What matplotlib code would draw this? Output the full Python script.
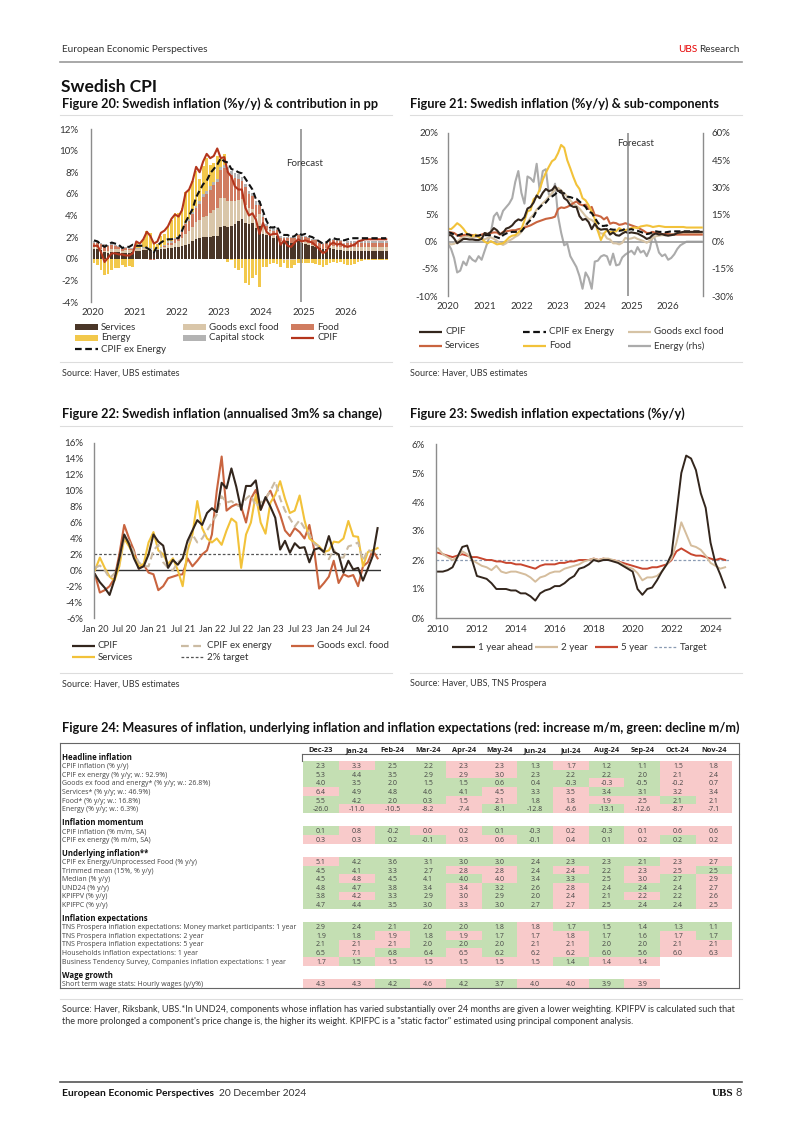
import numpy as np
import matplotlib.pyplot as plt
from matplotlib.lines import Line2D
from matplotlib.patches import Rectangle

plt.rcParams['font.family'] = ['Lato', 'DejaVu Sans']

W, H = 802, 1134
TXT = '#333333'
SPINE = '#8c8c8c'
DARK = '#33261d'

# ---------------- Figure 20: contributions (pp), monthly Jan-2020 .. Dec-2026
services_c = [0.9, 0.9, 0.8, 0.6, 0.5, 0.6, 0.6, 0.6, 0.5, 0.5, 0.5, 0.6,
              0.7, 0.7, 0.8, 0.8, 0.8, 0.6, 0.8, 0.9, 0.9, 1.0, 1.0, 1.1,
              1.1, 1.2, 1.3, 1.4, 1.6, 1.8, 1.9, 2.0, 2.0, 2.0, 2.1, 2.1,
              2.9, 3.0, 2.9, 3.0, 3.2, 3.5, 3.7, 3.3, 3.2, 3.3, 2.8, 3.0,
              2.3, 2.2, 2.2, 1.9, 2.1, 1.5, 1.6, 1.6, 1.5, 1.5, 1.6, 1.5,
              1.4, 1.3, 1.2, 1.1, 1.0, 0.9, 0.9, 1.0, 0.9, 0.8, 0.8, 0.7,
              0.7, 0.7, 0.7, 0.7, 0.7, 0.7, 0.7, 0.7, 0.7, 0.7, 0.7, 0.7]
goods_c = [0.2, 0.2, 0.1, 0.1, 0.2, 0.3, 0.3, 0.3, 0.2, 0.3, 0.3, 0.2,
           0.2, 0.2, 0.2, 0.1, 0.1, 0.0, 0.0, 0.1, 0.2, 0.3, 0.3, 0.4,
           0.5, 0.7, 1.0, 1.2, 1.3, 1.6, 1.7, 1.9, 2.0, 2.2, 2.4, 2.6,
           2.7, 2.6, 2.4, 2.3, 2.1, 1.9, 1.8, 1.7, 1.5, 1.3, 1.1, 1.1,
           0.9, 0.5, 0.4, 0.4, 0.2, 0.1, -0.1, -0.1, -0.1, -0.1, 0.2, 0.1,
           0.2, 0.2, 0.1, 0.1, 0.0, -0.1, 0.1, 0.2, 0.3, 0.3, 0.3, 0.3,
           0.4, 0.4, 0.4, 0.4, 0.4, 0.4, 0.4, 0.4, 0.4, 0.4, 0.4, 0.4]
food_c = [0.4, 0.4, 0.5, 0.6, 0.5, 0.4, 0.3, 0.2, 0.2, 0.2, 0.1, 0.1,
          0.0, 0.0, 0.0, 0.0, -0.1, -0.1, 0.0, 0.0, 0.1, 0.2, 0.2, 0.3,
          0.4, 0.6, 0.9, 0.9, 1.2, 1.3, 1.5, 1.8, 2.0, 2.2, 2.3, 2.4,
          2.6, 2.8, 2.8, 2.4, 2.2, 2.0, 1.7, 1.6, 1.3, 1.2, 1.1, 0.9,
          0.7, 0.3, 0.1, 0.3, 0.4, 0.3, 0.3, 0.3, 0.4, 0.4, 0.4, 0.4,
          0.4, 0.4, 0.4, 0.5, 0.5, 0.5, 0.5, 0.4, 0.5, 0.5, 0.5, 0.4,
          0.4, 0.4, 0.4, 0.4, 0.4, 0.4, 0.4, 0.4, 0.4, 0.4, 0.4, 0.4]
energy_c = [-0.4, -0.6, -1.0, -1.5, -1.4, -1.0, -0.9, -0.9, -0.6, -0.8, -0.7, -0.8,
            0.5, 0.3, 0.7, 1.6, 1.4, 0.8, 0.5, 1.0, 1.0, 1.3, 2.0, 2.3,
            2.1, 2.1, 2.9, 2.7, 2.9, 3.2, 2.1, 2.6, 3.0, 2.0, 1.8, 2.1,
            0.7, 1.0, -0.3, -0.1, -0.9, -1.0, -0.9, -2.2, -2.4, -1.8, -1.5, -2.6,
            -0.8, -0.8, -0.5, -0.4, -0.5, -0.8, -0.3, -0.8, -0.8, -0.5, -0.4, -0.4,
            -0.4, -0.4, -0.4, -0.5, -0.6, -0.7, -0.6, -0.4, -0.3, -0.4, -0.3, -0.5,
            -0.6, -0.6, -0.5, -0.3, -0.2, -0.1, -0.1, -0.1, -0.1, -0.1, -0.1, -0.1]
capital_c = [0.1, 0.1, 0.1, 0.1, 0.1, 0.1, 0.1, 0.1, 0.1, 0.1, 0.1, 0.1,
             0.1, 0.1, 0.1, 0.1, 0.1, 0.1, 0.1, 0.1, 0.1, 0.1, 0.1, 0.1,
             0.1, 0.1, 0.1, 0.2, 0.2, 0.2, 0.2, 0.3, 0.3, 0.3, 0.3, 0.3,
             0.3, 0.3, 0.4, 0.4, 0.4, 0.4, 0.4, 0.3, 0.3, 0.3, 0.3, 0.3,
             0.2, 0.2, 0.2, 0.2, 0.2, 0.2, 0.1, 0.1, 0.1, 0.1, 0.1, 0.1,
             0.1, 0.1, 0.1, 0.1, 0.1, 0.1, 0.1, 0.1, 0.1, 0.1, 0.1, 0.1,
             0.1, 0.1, 0.1, 0.1, 0.1, 0.1, 0.1, 0.1, 0.1, 0.1, 0.1, 0.1]
cpif = [1.2, 1.2, 0.6, -0.3, 0.1, 0.5, 0.5, 0.4, 0.4, 0.3, 0.3, 0.5,
        1.6, 1.4, 1.8, 2.5, 2.1, 1.4, 1.6, 2.4, 2.6, 3.0, 3.7, 4.1,
        3.9, 4.5, 6.1, 6.4, 7.2, 8.5, 8.0, 9.0, 9.7, 9.3, 9.5, 10.2,
        9.3, 9.4, 8.0, 7.6, 6.7, 6.4, 6.4, 4.7, 4.0, 4.2, 3.6, 2.3,
        3.3, 2.5, 2.2, 2.3, 2.3, 1.3, 1.7, 1.2, 1.1, 1.5, 1.8, 1.6,
        1.7, 1.6, 1.5, 1.2, 0.9, 0.5, 0.7, 1.3, 1.5, 1.3, 1.4, 1.2,
        1.1, 1.2, 1.3, 1.6, 1.7, 1.8, 1.8, 1.8, 1.8, 1.8, 1.8, 1.8]
cpif_xe = [1.7, 1.6, 1.3, 1.1, 1.3, 1.5, 1.4, 1.3, 1.0, 1.1, 1.1, 1.3,
           1.2, 1.2, 1.2, 1.0, 0.8, 0.6, 1.2, 1.5, 1.7, 1.8, 1.8, 1.9,
           1.9, 2.6, 3.4, 4.0, 4.6, 5.7, 6.3, 6.9, 7.2, 7.9, 8.3, 8.7,
           9.3, 9.0, 8.9, 8.3, 8.2, 8.0, 7.9, 7.4, 6.9, 6.4, 5.5, 5.3,
           4.4, 3.5, 2.9, 2.9, 3.0, 2.3, 2.2, 2.2, 2.0, 2.1, 2.4, 2.2,
           2.3, 2.1, 2.0, 1.8, 1.6, 1.4, 1.5, 1.8, 1.9, 1.8, 1.8, 1.7,
           1.8, 1.9, 1.9, 1.9, 1.9, 1.9, 1.9, 1.9, 1.9, 1.9, 1.9, 1.9]

# ---------------- Figure 21: sub-components (% y/y), monthly Jan-2020 .. Dec-2026
goods_yy = [-0.3, -0.5, -0.4, 0.0, 0.5, 0.8, 1.0, 0.9, 0.7, 0.8, 0.9, 0.6,
            0.4, 0.7, 0.8, 0.5, 0.2, -0.3, -0.6, -0.3, 0.2, 0.5, 0.9, 1.2,
            1.8, 2.6, 3.6, 4.4, 5.0, 5.9, 6.5, 7.1, 7.6, 8.3, 8.9, 9.6,
            9.9, 9.4, 8.9, 8.3, 7.6, 7.0, 6.6, 6.1, 5.4, 4.7, 4.2, 4.0,
            3.5, 2.0, 1.5, 1.5, 0.6, 0.4, -0.3, -0.3, -0.5, -0.2, 0.7, 0.5,
            0.6, 0.8, 0.5, 0.3, 0.1, -0.2, 0.2, 0.7, 1.0, 1.1, 1.2, 1.2,
            1.3, 1.4, 1.4, 1.5, 1.5, 1.5, 1.5, 1.5, 1.5, 1.5, 1.5, 1.5]
services_yy = [1.8, 1.7, 1.6, 1.2, 1.0, 1.2, 1.3, 1.3, 1.2, 1.1, 1.1, 1.3,
               1.5, 1.4, 1.6, 1.7, 1.7, 1.3, 1.8, 1.9, 2.0, 2.1, 2.1, 2.3,
               2.4, 2.6, 2.8, 3.0, 3.3, 3.6, 3.8, 4.0, 4.2, 4.3, 4.4, 4.6,
               6.0, 6.3, 6.2, 6.4, 6.7, 7.1, 7.4, 6.9, 6.7, 6.8, 6.0, 6.4,
               4.9, 4.8, 4.6, 4.1, 4.5, 3.3, 3.5, 3.4, 3.1, 3.2, 3.4, 3.2,
               3.0, 2.8, 2.6, 2.3, 2.0, 1.6, 1.6, 1.8, 1.6, 1.5, 1.4, 1.4,
               1.4, 1.3, 1.3, 1.3, 1.3, 1.3, 1.3, 1.3, 1.3, 1.3, 1.3, 1.3]
food_yy = [2.4, 2.3, 2.8, 3.4, 3.0, 2.4, 1.6, 1.2, 1.0, 1.3, 0.8, 0.5,
           0.0, -0.3, 0.1, -0.2, -0.5, -0.4, -0.3, 0.2, 0.8, 1.1, 1.2, 1.7,
           2.3, 3.9, 5.6, 5.8, 7.8, 8.3, 9.6, 11.4, 12.7, 13.8, 14.8, 15.2,
           16.3, 17.8, 17.3, 15.0, 13.5, 11.9, 10.5, 9.7, 8.0, 7.6, 6.7, 5.5,
           4.2, 2.0, 0.3, 1.5, 2.1, 1.8, 1.8, 1.9, 2.5, 2.1, 2.1, 2.3,
           2.5, 2.6, 2.5, 2.8, 2.9, 3.0, 2.9, 2.7, 2.8, 2.9, 2.8, 2.7,
           2.7, 2.7, 2.7, 2.7, 2.7, 2.7, 2.6, 2.6, 2.6, 2.6, 2.6, 2.6]
energy_yy = [-1.0, -4.0, -9.0, -17.0, -16.0, -11.0, -13.0, -8.0, -10.0, -11.0, -8.0, -10.0,
             -5.0, 0.0, 5.0, 14.0, 16.0, 12.0, 17.0, 19.0, 21.0, 24.0, 33.0, 39.0,
             27.0, 21.0, 36.0, 35.0, 33.0, 43.0, 28.0, 39.0, 40.0, 26.0, 25.0, 32.0,
             14.0, 5.0, -2.0, -1.0, -8.0, -11.0, -14.0, -19.0, -26.0, -17.0, -20.0, -26.0,
             -11.0, -10.5, -8.2, -7.4, -8.1, -12.8, -6.6, -13.1, -12.6, -8.7, -7.1, -6.0,
             -5.0, -7.0, -3.0, -6.0, -5.0, -8.0, -4.0, 4.0, 0.0, -6.0, -8.0, -7.0,
             -10.0, -9.0, -7.0, -4.0, -2.0, -1.0, 0.0, 0.0, 0.0, 0.0, 0.0, 0.0]

# ---------------- Figure 22: annualised 3m% sa change, monthly Jan-2020 .. Nov-2024
m22_labels = ['Jan 20', 'Jul 20', 'Jan 21', 'Jul 21', 'Jan 22', 'Jul 22',
              'Jan 23', 'Jul 23', 'Jan 24', 'Jul 24']
cpif_3m = [-0.5, -1.5, -2.2, -3.1, -1.2, 1.5, 4.5, 3.3, 1.5, 0.2, 0.5, 2.0,
           4.5, 3.6, 3.1, 0.3, 1.3, 0.7, 1.5, 3.7, 5.0, 6.3, 5.7, 7.2,
           7.8, 7.3, 11.0, 10.3, 12.8, 10.5, 7.6, 10.6, 10.6, 11.3, 7.6, 9.2,
           8.0, 6.6, 2.6, 3.7, 2.2, 3.4, 2.8, 2.9, 1.0, 2.6, 2.8, 2.3,
           4.3, 2.3, 2.0, -0.3, 1.2, 0.1, 0.3, -1.3, 0.2, 1.8, 5.3]
cpif_xe_3m = [0.3, 0.6, 0.0, -1.0, -0.4, 1.0, 4.2, 3.6, 2.2, 1.0, 0.5, 0.5,
              2.5, 3.2, 1.0, 0.3, 0.0, 1.0, 1.5, 3.0, 4.5, 3.5, 4.0, 5.0,
              6.0, 7.0, 9.3, 8.5, 8.7, 8.2, 8.0, 9.0, 9.5, 8.0, 8.5, 9.0,
              10.0, 11.2, 9.0, 7.5, 6.5, 5.5, 6.3, 5.3, 4.5, 3.3, 3.0, 2.2,
              1.4, 2.6, 1.6, 1.6, 3.0, 3.2, 3.5, 1.2, 2.6, 2.2, 2.6]
goods_3m = [-0.5, -2.8, -2.5, -2.0, -1.0, 2.0, 5.7, 4.0, 2.5, 0.2, 0.7, -0.3,
            -0.5, -2.5, -2.0, -1.0, -0.8, -0.6, -0.5, 1.5, 0.5, 1.2, 2.0, 2.5,
            4.5, 10.0, 14.3, 7.5, 8.0, 8.3, 8.0, 6.0, 9.0, 10.1, 7.6, 9.0,
            10.0, 8.5, 7.0, 5.0, 4.3, 5.3, 4.8, 4.0, 5.7, 2.5, -2.3, -1.6,
            -0.8, 1.2, -1.6, -0.5, -0.8, -0.6, -2.0, 0.5, 1.0, 2.5, 1.5]
services_3m = [0.0, 1.6, 0.3, -0.8, -1.3, 0.5, 4.0, 3.0, 1.8, 0.5, 0.8, 3.5,
               4.8, 2.5, 2.0, 0.8, 1.5, 0.0, -2.0, 2.5, 4.5, 8.7, 5.3, 4.0,
               3.5, 4.0, 3.2, 5.0, 6.5, 6.0, 0.3, 4.5, 6.0, 9.5, 6.0, 4.6,
               8.5, 9.5, 11.2, 9.0, 7.2, 7.5, 9.4, 6.3, 4.0, 3.5, 3.0, 2.3,
               2.5, 3.6, 3.5, 4.0, 6.2, 4.3, 4.2, 0.5, 2.3, 2.5, 2.8]
target_22 = 2.0

# ---------------- Figure 23: inflation expectations, quarterly 2010Q1 .. 2024Q4
exp_1y = [1.6, 1.6, 1.65, 1.75, 2.1, 2.45, 2.5, 2.0, 1.45, 1.4, 1.35, 1.2,
          1.0, 1.0, 1.0, 0.95, 0.95, 0.85, 0.85, 0.75, 0.6, 0.85, 0.95, 1.0,
          1.1, 1.1, 1.2, 1.35, 1.45, 1.7, 1.75, 1.85, 2.0, 1.95, 2.0, 2.0,
          1.95, 1.9, 1.8, 1.7, 1.6, 1.0, 0.8, 1.0, 1.05, 1.3, 1.6, 1.85,
          2.2, 3.6, 5.0, 5.6, 5.5, 5.1, 4.3, 3.8, 2.6, 1.9, 1.5, 1.05]
exp_2y = [2.4, 2.2, 2.1, 2.0, 2.1, 2.3, 2.2, 2.0, 1.9, 1.8, 1.75, 1.65,
          1.8, 1.6, 1.55, 1.6, 1.6, 1.55, 1.5, 1.4, 1.25, 1.4, 1.45, 1.55,
          1.6, 1.6, 1.7, 1.75, 1.8, 1.85, 1.95, 2.0, 2.05, 2.0, 2.05, 2.05,
          2.0, 1.95, 1.85, 1.75, 1.7, 1.55, 1.3, 1.4, 1.4, 1.45, 1.6, 1.85,
          2.05, 2.6, 3.3, 2.9, 2.5, 2.45, 2.35, 2.15, 1.9, 1.8, 1.7, 1.75]
exp_5y = [2.25, 2.2, 2.15, 2.1, 2.15, 2.2, 2.15, 2.1, 2.1, 2.05, 2.0, 2.0,
          1.95, 1.95, 1.9, 1.9, 1.85, 1.85, 1.8, 1.75, 1.7, 1.8, 1.85, 1.85,
          1.85, 1.9, 1.9, 1.95, 1.95, 2.0, 2.0, 2.0, 2.05, 2.0, 2.05, 2.0,
          2.0, 1.95, 1.9, 1.85, 1.8, 1.75, 1.7, 1.7, 1.75, 1.75, 1.8, 1.85,
          2.0, 2.3, 2.4, 2.3, 2.2, 2.15, 2.15, 2.1, 2.05, 2.0, 2.05, 2.0]
target_23 = 2.0

# ---------------- Figure 24: table
tab_cols = ['Dec-23', 'Jan-24', 'Feb-24', 'Mar-24', 'Apr-24', 'May-24',
            'Jun-24', 'Jul-24', 'Aug-24', 'Sep-24', 'Oct-24', 'Nov-24']
headline_rows = [
    ('CPIF inflation (% y/y)', [2.3, 3.3, 2.5, 2.2, 2.3, 2.3, 1.3, 1.7, 1.2, 1.1, 1.5, 1.8], 'grggrrgrggrr'),
    ('CPIF ex energy (% y/y; w.: 92.9%)', [5.3, 4.4, 3.5, 2.9, 2.9, 3.0, 2.3, 2.2, 2.2, 2.0, 2.1, 2.4], 'ggggrrggggrr'),
    ('Goods ex food and energy* (% y/y; w.: 26.8%)', [4.0, 3.5, 2.0, 1.5, 1.5, 0.6, 0.4, -0.3, -0.3, -0.5, -0.2, 0.7], 'ggggggggrgrr'),
    ('Services* (% y/y; w.: 46.9%)', [6.4, 4.9, 4.8, 4.6, 4.1, 4.5, 3.3, 3.5, 3.4, 3.1, 3.2, 3.4], 'rggggrgrggrr'),
    ('Food* (% y/y; w.: 16.8%)', [5.5, 4.2, 2.0, 0.3, 1.5, 2.1, 1.8, 1.8, 1.9, 2.5, 2.1, 2.1], 'ggggrrgrrrgr'),
    ('Energy (% y/y; w.: 6.3%)', [-26.0, -11.0, -10.5, -8.2, -7.4, -8.1, -12.8, -6.6, -13.1, -12.6, -8.7, -7.1], 'grrrrggrgrrr'),
]
momentum_rows = [
    ('CPIF inflation (% m/m, SA)', [0.1, 0.8, -0.2, 0.0, 0.2, 0.1, -0.3, 0.2, -0.3, 0.1, 0.6, 0.6], 'grgrrggrgrrr'),
    ('CPIF ex energy (% m/m, SA)', [0.3, 0.3, 0.2, -0.1, 0.3, 0.6, -0.1, 0.4, 0.1, 0.2, 0.2, 0.2], 'rrggrrgrgrgr'),
]
underlying_rows = [
    ('CPIF ex Energy/Unprocessed Food (% y/y)', [5.1, 4.2, 3.6, 3.1, 3.0, 3.0, 2.4, 2.3, 2.3, 2.1, 2.3, 2.7], 'rgggggggggrr'),
    ('Trimmed mean (15%, % y/y)', [4.5, 4.1, 3.3, 2.7, 2.8, 2.8, 2.4, 2.4, 2.2, 2.3, 2.5, 2.5], 'ggggrrgrgrrg'),
    ('Median (% y/y)', [4.5, 4.8, 4.5, 4.1, 4.0, 4.0, 3.4, 3.3, 2.5, 3.0, 2.7, 2.9], 'grgggrgggrgr'),
    ('UND24 (% y/y)', [4.8, 4.7, 3.8, 3.4, 3.4, 3.2, 2.6, 2.8, 2.4, 2.4, 2.4, 2.7], 'ggggrggrgggr'),
    ('KPIFPV (% y/y)', [3.8, 4.2, 3.3, 2.9, 3.0, 2.9, 2.0, 2.4, 2.1, 2.2, 2.2, 2.6], 'grggrggrgrgr'),
    ('KPIFPC (% y/y)', [4.7, 4.4, 3.5, 3.0, 3.3, 3.0, 2.7, 2.7, 2.5, 2.4, 2.4, 2.5], 'ggggrggrgggr'),
]
expectation_rows = [
    ('TNS Prospera inflation expectations: Money market participants: 1 year', [2.9, 2.4, 2.1, 2.0, 2.0, 1.8, 1.8, 1.7, 1.5, 1.4, 1.3, 1.1], 'ggggggrggggg'),
    ('TNS Prospera inflation expectations: 2 year', [1.9, 1.8, 1.9, 1.8, 1.9, 1.7, 1.7, 1.8, 1.7, 1.6, 1.7, 1.7], 'ggrgrgrrggrg'),
    ('TNS Prospera inflation expectations: 5 year', [2.1, 2.1, 2.1, 2.0, 2.0, 2.0, 2.1, 2.1, 2.0, 2.0, 2.1, 2.1], 'grrgggrrggrr'),
    ('Households inflation expectations: 1 year', [6.5, 7.1, 6.8, 6.4, 6.5, 6.2, 6.2, 6.2, 6.0, 5.6, 6.0, 6.3], 'grggrgrrggrr'),
    ('Business Tendency Survey, Companies inflation expectations: 1 year', [1.7, 1.5, 1.5, 1.5, 1.5, 1.5, 1.5, 1.4, 1.4, 1.4], 'rgrrrrrgrr'),
]
wage_rows = [
    ('Short term wage stats: Hourly wages (y/y%)', [4.3, 4.3, 4.2, 4.6, 4.2, 3.7, 4.0, 4.0, 3.9, 3.9], 'rrgrggrrgr'),
]
sections = [('Headline inflation', headline_rows),
            ('Inflation momentum', momentum_rows),
            ('Underlying inflation**', underlying_rows),
            ('Inflation expectations', expectation_rows),
            ('Wage growth', wage_rows)]

# ---------------- helpers (pixel coordinates, origin top-left)
fig = plt.figure(figsize=(W / 100, H / 100), dpi=100)
renderer = fig.canvas.get_renderer()


def fx(x):
    return x / W


def fy(y):
    return 1 - y / H


def axes_px(left, top, right, bottom):
    return fig.add_axes([fx(left), fy(bottom), (right - left) / W, (bottom - top) / H])


def text_px(x, y, s, **kw):
    kw.setdefault('va', 'center')
    kw.setdefault('color', TXT)
    return fig.text(fx(x), fy(y), s, **kw)


def text_width(t):
    return t.get_window_extent(renderer).width


def line_px(x0, x1, y0, y1, **kw):
    fig.add_artist(Line2D([fx(x0), fx(x1)], [fy(y0), fy(y1)], transform=fig.transFigure, **kw))


def rect_px(x0, y0, x1, y1, color):
    fig.add_artist(Rectangle((fx(x0), fy(y1)), (x1 - x0) / W, (y1 - y0) / H,
                             transform=fig.transFigure, facecolor=color, edgecolor='none', lw=0))


def leg_patch(x, y, color, label):
    rect_px(x, y - 2.6, x + 23, y + 2.6, color)
    text_px(x + 26, y, label, fontsize=7)


def leg_line(x, y, color, label, dashes=None, lw=1.6):
    kw = dict(color=color, lw=lw, solid_capstyle='butt')
    if dashes:
        kw.update(ls=(0, dashes), dash_capstyle='butt')
    line_px(x, x + 23, y, y, **kw)
    text_px(x + 26, y, label, fontsize=7)


def style(ax, left=True, right=False, bottom=False):
    for side in ['top', 'right', 'bottom', 'left']:
        ax.spines[side].set_visible(False)
    for side, on in [('left', left), ('right', right), ('bottom', bottom)]:
        if on:
            ax.spines[side].set_visible(True)
            ax.spines[side].set_color(SPINE)
            ax.spines[side].set_linewidth(1.0)
    ax.tick_params(length=0, labelsize=7, labelcolor=TXT, pad=6)
    ax.patch.set_alpha(0)


def pct(v):
    return f'{v:g}%'


# ---------------- page header
text_px(62, 50, 'European Economic Perspectives', fontsize=7.2)
t = text_px(740, 50, 'Research', fontsize=7.2, ha='right')
text_px(740 - text_width(t) - 2.5, 50, 'UBS', fontsize=7.2, ha='right', color='#e60000')
line_px(60, 742, 62, 62, color='#9a9a9a', lw=1.2)
text_px(61, 87, 'Swedish CPI', fontsize=12.5, fontweight='bold', color='#111111')

# ---------------- Figure 20
text_px(62, 104, 'Figure 20: Swedish inflation (%y/y) & contribution in pp', fontsize=9.2, fontweight='bold', color='#111111')
line_px(60, 392, 115, 115, color='#dddddd', lw=0.8)
ax = axes_px(91, 129, 388, 302)
xm = 2020 + (np.arange(84) + 0.5) / 12
pos = np.zeros(84)
neg = np.zeros(84)
for vals, col in [(services_c, '#4a3628'), (goods_c, '#d9c6a9'), (food_c, '#d07c60'),
                  (capital_c, '#b3b3b3'), (energy_c, '#f2c84b')]:
    v = np.array(vals)
    p = np.where(v > 0, v, 0)
    n = np.where(v < 0, v, 0)
    ax.bar(xm, p, bottom=pos, width=0.064, color=col, lw=0)
    ax.bar(xm, n, bottom=neg, width=0.064, color=col, lw=0)
    pos += p
    neg += n
ax.plot(xm, cpif, color='#b4351c', lw=1.5, zorder=4)
ax.plot(xm, cpif_xe, color='#111111', lw=1.5, ls=(0, (3, 1.6)), zorder=5)
ax.axvline(2024.93, color='#8f8f8f', lw=1.2, zorder=3)
ax.text(2025.03, 8.85, 'Forecast', fontsize=7, color=TXT, ha='center', va='center')
ax.set_xlim(2019.97, 2027.0)
ax.set_ylim(-4, 12)
ax.set_yticks(np.arange(-4, 13, 2))
ax.set_yticklabels([pct(v) for v in np.arange(-4, 13, 2)])
ax.set_xticks(np.arange(2020, 2027))
ax.set_xticklabels([str(y) for y in range(2020, 2027)])
style(ax)
ax.tick_params(axis='x', pad=4)
ax.tick_params(axis='y', pad=9)

leg_patch(75, 327, '#4a3628', 'Services')
leg_patch(183, 327, '#d9c6a9', 'Goods excl food')
leg_patch(291, 327, '#d07c60', 'Food')
leg_patch(75, 338, '#f2c84b', 'Energy')
leg_patch(183, 338, '#b3b3b3', 'Capital stock')
leg_line(291, 338, '#b4351c', 'CPIF')
leg_line(75, 349, '#111111', 'CPIF ex Energy', dashes=(3, 1.6))
line_px(60, 392, 362, 362, color='#dddddd', lw=0.8)
text_px(62, 373, 'Source: Haver, UBS estimates', fontsize=6.5)

# ---------------- Figure 21
text_px(410, 104, 'Figure 21: Swedish inflation (%y/y) & sub-components', fontsize=9.2, fontweight='bold', color='#111111')
line_px(410, 742, 115, 115, color='#dddddd', lw=0.8)
ax = axes_px(448, 133, 703, 296)
axr = ax.twinx()
xl = 2020 + np.arange(84) / 12
axr.plot(xl, energy_yy, color='#ababab', lw=1.5)
ax.set_zorder(axr.get_zorder() + 1)
ax.axhline(0, color='#9a9a9a', lw=1.2)
ax.plot(xl, goods_yy, color='#d6c3a5', lw=1.5)
ax.plot(xl, services_yy, color='#c9643f', lw=1.5)
ax.plot(xl, food_yy, color='#f2c23a', lw=1.5)
ax.plot(xl, cpif_xe, color='#111111', lw=1.5, ls=(0, (3, 1.6)))
ax.plot(xl, cpif, color=DARK, lw=1.5)
ax.axvline(2024.9, color='#8f8f8f', lw=1.2)
ax.text(2025.12, 18.0, 'Forecast', fontsize=7, color=TXT, ha='center', va='center')
ax.set_xlim(2020, 2026.95)
ax.set_ylim(-10, 20)
axr.set_ylim(-30, 60)
ax.set_yticks(np.arange(-10, 21, 5))
ax.set_yticklabels([pct(v) for v in np.arange(-10, 21, 5)])
axr.set_yticks(np.arange(-30, 61, 15))
axr.set_yticklabels([pct(v) for v in np.arange(-30, 61, 15)])
ax.set_xticks(np.arange(2020, 2027))
ax.set_xticklabels([str(y) for y in range(2020, 2027)])
style(ax)
style(axr, left=False, right=True)
ax.tick_params(axis='x', pad=4)
ax.tick_params(axis='y', pad=7)

leg_line(419, 332, DARK, 'CPIF')
leg_line(523, 332, '#111111', 'CPIF ex Energy', dashes=(3, 1.6))
leg_line(628, 332, '#d6c3a5', 'Goods excl food')
leg_line(419, 346, '#c9643f', 'Services')
leg_line(523, 346, '#f2c23a', 'Food')
leg_line(628, 346, '#ababab', 'Energy (rhs)')
line_px(410, 742, 362, 362, color='#dddddd', lw=0.8)
text_px(410, 373, 'Source: Haver, UBS estimates', fontsize=6.5)

# ---------------- Figure 22
text_px(62, 414, 'Figure 22: Swedish inflation (annualised 3m% sa change)', fontsize=9.2, fontweight='bold', color='#111111')
line_px(60, 392, 426, 426, color='#dddddd', lw=0.8)
ax = axes_px(94, 443, 381, 618)
xi = np.arange(len(cpif_3m))
ax.axhline(0, color='#333333', lw=1.0)
ax.axhline(target_22, color='#555555', lw=0.9, ls=(0, (2.2, 1.6)))
ax.plot(xi, goods_3m, color='#c9643f', lw=1.5)
ax.plot(xi, services_3m, color='#f2c23a', lw=1.5)
ax.plot(xi, cpif_xe_3m, color='#cbbba3', lw=1.5, ls=(0, (3.5, 2)))
ax.plot(xi, cpif_3m, color=DARK, lw=1.5)
ax.set_xlim(-0.2, 58.7)
ax.set_ylim(-6, 16)
ax.set_yticks(np.arange(-6, 17, 2))
ax.set_yticklabels([pct(v) for v in np.arange(-6, 17, 2)])
ax.set_xticks(np.arange(0, 55, 6))
ax.set_xticklabels(m22_labels)
style(ax)
ax.tick_params(axis='x', pad=5, labelsize=6.6)
ax.tick_params(axis='y', pad=8)

leg_line(72, 646, DARK, 'CPIF')
leg_line(181, 646, '#cbbba3', 'CPIF ex energy', dashes=(3.5, 2))
leg_line(291, 646, '#c9643f', 'Goods excl. food')
leg_line(72, 657, '#f2c23a', 'Services')
leg_line(181, 657, '#555555', '2% target', dashes=(2.2, 1.6), lw=0.9)
line_px(60, 392, 673, 673, color='#dddddd', lw=0.8)
text_px(62, 684, 'Source: Haver, UBS estimates', fontsize=6.5)

# ---------------- Figure 23
text_px(410, 414, 'Figure 23: Swedish inflation expectations (%y/y)', fontsize=9.2, fontweight='bold', color='#111111')
line_px(410, 742, 426, 426, color='#dddddd', lw=0.8)
ax = axes_px(436, 444, 730, 618)
xq = 2010 + np.arange(len(exp_1y)) * 0.25
ax.axhline(target_23, color='#8a9bb3', lw=0.9, ls=(0, (2.2, 1.6)))
ax.plot(xq, exp_5y, color='#c8472f', lw=1.4)
ax.plot(xq, exp_2y, color='#d5bd9d', lw=1.4)
ax.plot(xq, exp_1y, color=DARK, lw=1.4)
ax.set_xlim(2009.9, 2025.0)
ax.set_ylim(0, 6)
ax.set_yticks(np.arange(0, 7, 1))
ax.set_yticklabels([pct(v) for v in np.arange(0, 7, 1)])
ax.set_xticks(np.arange(2010, 2025, 2))
ax.set_xticklabels([str(y) for y in range(2010, 2025, 2)])
style(ax, bottom=True)
ax.tick_params(axis='x', pad=5)
ax.tick_params(axis='y', pad=8)

leg_line(452, 647, DARK, '1 year ahead')
leg_line(535, 647, '#d5bd9d', '2 year')
leg_line(595, 647, '#c8472f', '5 year')
leg_line(654, 647, '#8a9bb3', 'Target', dashes=(2.2, 1.6), lw=0.9)
line_px(410, 742, 673, 673, color='#dddddd', lw=0.8)
text_px(410, 684, 'Source: Haver, UBS, TNS Prospera', fontsize=6.5)

# ---------------- Figure 24 table
text_px(62, 728, 'Figure 24: Measures of inflation, underlying inflation and inflation expectations (red: increase m/m, green: decline m/m)',
        fontsize=9.2, fontweight='bold', color='#111111')
GREEN, PINK = '#c4dfb3', '#f8caca'
TF = ['Open Sans', 'DejaVu Sans']
col_w = 35.7
col_c = [321 + col_w * i for i in range(len(tab_cols))]
TFS = 5.0
for c, lab in zip(col_c, tab_cols):
    text_px(c, 750, lab, fontsize=TFS + 0.3, fontweight='bold', ha='center', va='center_baseline',
            color='#222222', family=TF)
y = 756.5
row_h = 8.65
for si, (title, rows) in enumerate(sections):
    if si > 0:
        y += 13.0
    text_px(62, y, title, fontsize=TFS + 0.6, fontweight='bold', va='center_baseline', color='#111111', family=TF)
    y += 9.0
    for ri, (label, vals, cols) in enumerate(rows):
        if ri > 0:
            y += row_h
        text_px(62, y, label, fontsize=TFS, va='center_baseline', color='#444444', family=TF)
        for c, v, k in zip(col_c, vals, cols):
            rect_px(c - col_w / 2, y - row_h / 2, c + col_w / 2, y + row_h / 2,
                    GREEN if k == 'g' else PINK)
            text_px(c, y, f'{v:.1f}', fontsize=TFS, ha='center', va='center_baseline',
                    color='#444444', family=TF)
bottom_y = y + 5
line_px(60, 739, 743, 743, color='#666666', lw=0.8)
line_px(60, 739, bottom_y, bottom_y, color='#666666', lw=0.8)
line_px(60, 60, 743, bottom_y, color='#666666', lw=0.8)
line_px(739, 739, 743, bottom_y, color='#666666', lw=0.8)
line_px(302, 739, 753.5, 753.5, color='#666666', lw=0.8)
line_px(302, 302, 753.5, 761, color='#666666', lw=0.8)

line_px(60, 742, 999, 999, color='#dddddd', lw=0.8)
text_px(62, 1010, 'Source: Haver, Riksbank, UBS.*In UND24, components whose inflation has varied substantially over 24 months are given a lower weighting. KPIFPV is calculated such that',
        fontsize=6.45)
text_px(62, 1021, 'the more prolonged a component\'s price change is, the higher its weight. KPIFPC is a "static factor" estimated using principal component analysis.',
        fontsize=6.45)

# ---------------- footer
line_px(60, 742, 1082, 1082, color='#555555', lw=1.2)
t = text_px(62, 1093, 'European Economic Perspectives', fontsize=7.4, fontweight='bold', color='#111111')
text_px(62 + text_width(t) + 5, 1093, '20 December 2024', fontsize=7.4, color='#333333')
text_px(742, 1093, '8', fontsize=8, ha='right', color='#333333')
text_px(733, 1093, 'UBS', fontsize=8, ha='right', fontweight='bold', color='#111111',
        family=['Liberation Serif', 'DejaVu Serif'])

fig.savefig('out.png', dpi=100)
